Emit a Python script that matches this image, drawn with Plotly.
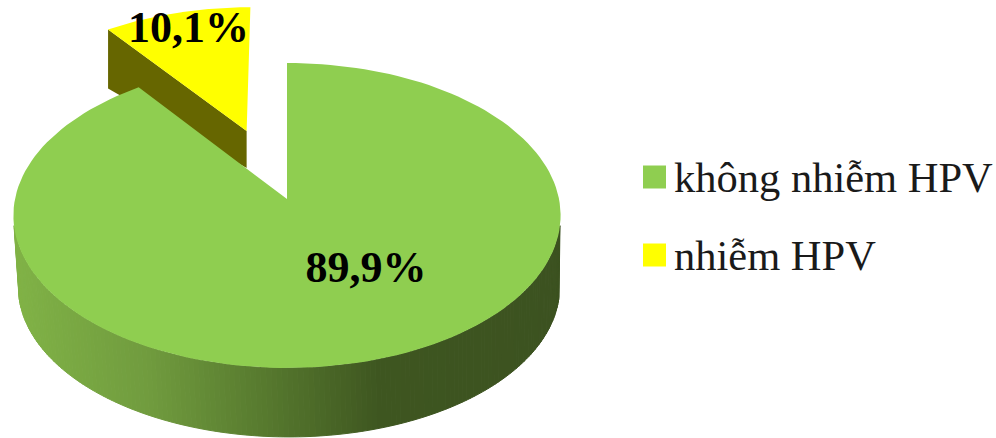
import numpy as np
import plotly.graph_objects as go

# Survey shares
categories = ["không nhiễm HPV", "nhiễm HPV"]
shares = [89.9, 10.1]
share_labels = ["89,9%", "10,1%"]

# Styling
top_colors = ["#8FCE50", "#FFFF00"]
wedge_wall_color = "#666600"
rim_stop_x = [18, 150, 250, 380, 560]
rim_stop_rgb = [(128, 178, 70), (112, 155, 62), (90, 126, 48), (62, 86, 32), (60, 82, 32)]

# Oblique view of the pie: a point on the unit disk is projected with a mild perspective
CX, CY = 287.0, 199.0
RX, RY = 272.0, 150.7
BASE_CX, BASE_CY, BASE_RX, BASE_RY = 289.0, 271.0, 269.0, 148.0
PERSPECTIVE = 0.108
EXPLODE = 0.5
WALL_DEPTH_OUTER, WALL_DEPTH_INNER = 59.0, 37.0


def project(u, v, cx=CX, cy=CY, rx=RX, ry=RY):
    w = 1 + PERSPECTIVE * np.asarray(v, dtype=float)
    return cx + rx * np.asarray(u) / w, cy - ry * np.asarray(v) / w


def sector(start_deg, end_deg, du=0.0, dv=0.0, n=160):
    theta = np.radians(np.linspace(start_deg, end_deg, n))
    u = np.concatenate([[du], du + np.sin(theta), [du]])
    v = np.concatenate([[dv], dv + np.cos(theta), [dv]])
    return project(u, v)


def rim_color(x):
    channels = [np.interp(x, rim_stop_x, [c[i] for c in rim_stop_rgb]) for i in range(3)]
    return "rgb({:.0f},{:.0f},{:.0f})".format(*channels)


def polygon(x, y, color, line=0):
    return go.Scatter(
        x=x, y=y, mode="lines", fill="toself", fillcolor=color,
        line=dict(color=color, width=line), hoverinfo="skip", showlegend=False,
    )


fig = go.Figure()

# Slice sweep derived from the shares, clockwise from twelve o'clock
main_sweep = 360 * shares[0] / sum(shares)
small_sweep = 360 - main_sweep
mid = np.radians(main_sweep + small_sweep / 2)
du, dv = EXPLODE * np.sin(mid), EXPLODE * np.cos(mid)

# Cut wall of the pulled-out slice
ax, ay = project(du, dv)
ox, oy = project(du + np.sin(np.radians(main_sweep)), dv + np.cos(np.radians(main_sweep)))
fig.add_trace(polygon(
    [ox, ax, ax, ox, ox],
    [oy, ay, ay + WALL_DEPTH_INNER, oy + WALL_DEPTH_OUTER, oy],
    wedge_wall_color,
))

# Top of the pulled-out slice
sx, sy = sector(main_sweep, 360, du, dv)
fig.add_trace(polygon(sx, sy, top_colors[1]))

# Front rim of the large slice, shaded strip by strip
edges = np.radians(np.linspace(100, 260, 161))
for a, b in zip(edges[:-1], edges[1:]):
    tx, ty = project(np.sin([a, b]), np.cos([a, b]))
    bx, by = project(np.sin([b, a]), np.cos([b, a]), cx=BASE_CX, cy=BASE_CY, rx=BASE_RX, ry=BASE_RY)
    xs = np.concatenate([tx, bx, tx[:1]])
    ys = np.concatenate([ty, by, ty[:1]])
    fig.add_trace(polygon(xs, ys, rim_color(xs.mean()), line=1))

# Top of the large slice
gx, gy = sector(0, main_sweep)
fig.add_trace(polygon(gx, gy, top_colors[0]))

# Value labels
fig.add_trace(go.Scatter(
    x=[366, 188.5], y=[271, 31], mode="text", text=share_labels,
    textfont=dict(family="Liberation Serif", size=44, color="black"),
    texttemplate="<b>%{text}</b>", hoverinfo="skip", showlegend=False,
))

# Colour key
for name, color, yk in zip(categories, top_colors, [177, 255]):
    fig.add_trace(go.Scatter(
        x=[654.5], y=[yk], mode="markers",
        marker=dict(symbol="square", size=23, color=color, line=dict(width=0)),
        hoverinfo="skip", showlegend=False,
    ))
    fig.add_annotation(
        x=672, y=yk, xref="x", yref="y", text=name, showarrow=False,
        xanchor="left", yanchor="middle",
        font=dict(family="Liberation Serif", size=42.5, color="#1a1a1a"),
    )

fig.update_layout(
    width=996, height=438, autosize=False,
    margin=dict(l=0, r=0, t=0, b=0),
    paper_bgcolor="white", plot_bgcolor="white", showlegend=False,
    xaxis=dict(range=[0, 996], visible=False, fixedrange=True),
    yaxis=dict(range=[438, 0], visible=False, fixedrange=True),
)
fig.write_html("out.html", config=dict(displayModeBar=False))
